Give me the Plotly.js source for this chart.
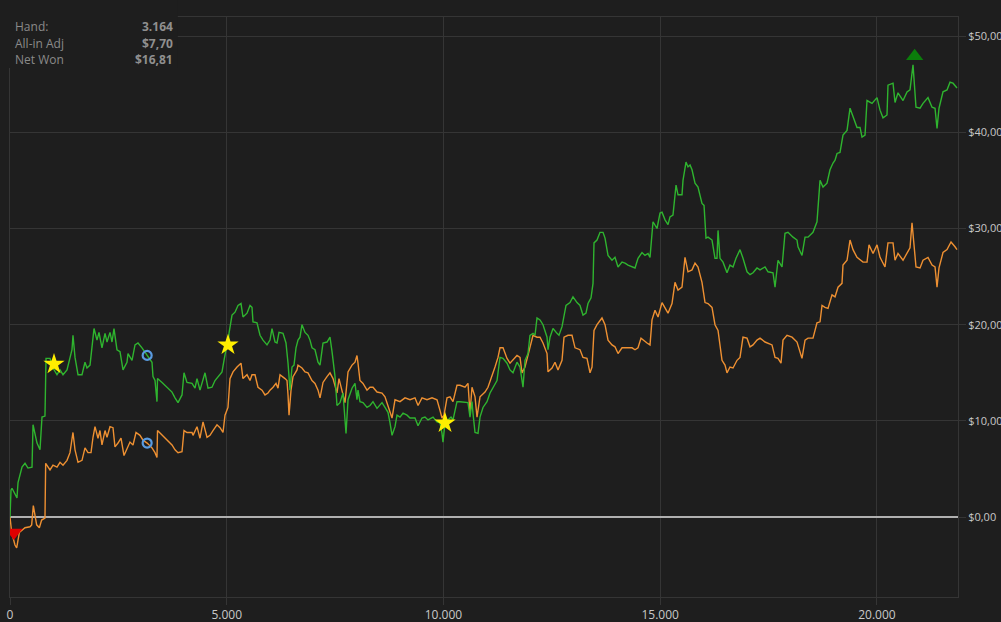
<!DOCTYPE html>
<html>
<head>
<meta charset="utf-8">
<script src="https://cdn.plot.ly/plotly-3.0.1.min.js"></script>
<style>
html,body{margin:0;padding:0;background:#1e1e1e;}
#chart{width:1001px;height:622px;}
</style>
</head>
<body>
<div id="chart"></div>
<script>
// Net Won (green)
const netHands = [0,23,46,161,185,277,346,415,508,531,623,692,738,807,831,923,992,1084,1154,1223,1315,1384,1430,1453,1500,1569,1661,1730,1776,1846,1892,1938,2007,2053,2122,2192,2238,2307,2353,2399,2468,2538,2607,2699,2722,2815,2884,2953,3045,3164,3276,3299,3345,3391,3403,3507,3622,3737,3807,3876,3968,4014,4083,4199,4268,4314,4383,4499,4568,4660,4729,4798,4891,4937,4983,5029,5052,5122,5191,5260,5329,5375,5468,5537,5583,5606,5698,5768,5837,5929,5998,6044,6114,6160,6206,6298,6367,6414,6460,6506,6552,6598,6644,6690,6736,6806,6875,6921,6967,7036,7106,7152,7221,7313,7382,7429,7498,7544,7613,7682,7705,7752,7798,7890,7959,8005,8028,8074,8144,8236,8305,8374,8467,8582,8651,8720,8767,8813,8882,8928,8997,9067,9159,9228,9343,9413,9505,9574,9643,9759,9851,9920,9966,9989,10036,10105,10174,10220,10312,10381,10566,10612,10658,10681,10728,10797,10843,10912,11004,11074,11143,11235,11304,11374,11466,11535,11604,11696,11766,11835,11881,11950,11996,12066,12112,12158,12227,12296,12389,12412,12458,12527,12619,12665,12735,12781,12827,12919,12988,13081,13150,13219,13288,13334,13404,13450,13473,13542,13611,13681,13727,13796,13888,13957,14027,14119,14188,14257,14350,14419,14488,14580,14649,14719,14765,14811,14834,14926,14996,15042,15111,15180,15226,15295,15365,15411,15503,15526,15595,15641,15688,15734,15803,15872,15964,16011,16057,16103,16195,16264,16310,16334,16380,16449,16541,16610,16680,16749,16841,16910,17003,17072,17141,17233,17303,17418,17487,17602,17649,17718,17810,17879,17948,18064,18156,18179,18271,18341,18410,18525,18617,18687,18756,18848,18917,18987,19033,19079,19148,19217,19310,19379,19448,19540,19610,19656,19725,19771,19886,20002,20071,20140,20232,20255,20371,20417,20486,20602,20694,20763,20832,20901,20994,21063,21178,21271,21340,21386,21432,21524,21617,21686,21755,21847];
const netWon = [0,2.8,3.0,2.0,3.6,5.2,5.6,5.1,5.2,9.6,7.7,7.0,10.4,10.5,16.5,16.5,15.5,14.8,15.3,14.8,15.3,16.5,17.4,18.9,16.6,14.8,14.8,16.1,15.5,15.8,17.4,19.6,18.4,19.2,17.6,19.1,18.2,19.2,18.2,19.6,17.4,17.2,15.3,16.1,17.0,16.3,17.9,18.1,17.6,16.81,16.1,14.6,14.2,12.0,14.4,14.0,13.5,13.0,12.4,11.9,12.7,15.0,14.0,13.9,13.4,14.4,13.2,15.0,13.4,13.5,14.2,14.6,15.1,16.3,17.4,17.9,19.1,21.0,21.3,22.0,22.2,20.8,21.2,22.0,21.8,20.3,20.2,18.9,18.4,17.9,18.4,19.6,18.2,18.1,19.2,19.1,18.1,16.0,13.2,15.6,15.8,17.6,18.4,18.7,20.0,19.2,18.9,18.4,17.6,17.4,16.1,15.8,18.1,18.2,18.7,17.2,14.6,11.6,11.9,12.9,11.4,8.7,12.2,13.4,13.9,12.2,13.2,12.0,11.9,11.4,11.6,12.0,11.3,11.9,11.4,10.9,9.8,8.5,9.4,10.6,10.4,10.8,10.6,10.3,10.3,9.5,10.3,10.4,10.1,10.4,9.9,9.8,8.7,7.8,9.8,10.1,10.4,10.1,12.0,12.0,11.9,10.4,12.0,10.8,8.8,8.7,10.4,11.4,12.0,12.9,13.5,14.2,16.6,16.5,16.0,15.3,15.0,16.1,15.6,13.5,16.3,17.0,18.9,19.1,18.9,20.7,20.5,20.0,18.7,17.4,18.7,19.6,19.1,18.9,19.8,20.8,22.0,22.3,22.9,22.3,22.0,21.0,21.2,22.2,22.8,24.3,28.5,28.8,29.6,29.6,29.0,27.2,26.7,27.0,26.0,26.5,26.4,26.2,26.0,25.9,26.9,27.5,27.2,27.4,27.0,29.1,30.7,30.0,31.6,31.7,30.9,30.4,31.2,31.4,34.5,33.5,33.5,35.0,36.9,36.4,36.6,36.1,34.7,34.3,32.6,32.4,29.0,29.1,28.8,26.9,26.9,29.8,26.9,26.5,25.4,26.2,26.0,26.9,27.8,26.9,25.5,25.2,25.4,25.9,25.7,26.0,25.5,25.4,23.9,26.7,26.0,29.5,29.6,29.1,28.8,28.1,27.2,29.1,29.1,29.6,30.7,35.0,34.3,34.7,36.1,36.8,37.1,37.8,37.9,39.7,40.2,42.5,41.6,40.5,40.5,39.5,39.7,43.3,43.0,43.6,42.3,41.5,41.8,44.9,45.1,43.1,44.1,43.3,44.2,44.4,47.0,42.6,42.5,43.0,43.6,42.6,42.5,40.4,42.5,44.2,44.4,45.2,45.1,44.6];

// All-in Adj (orange)
const adjHands = [0,39,115,154,215,269,346,461,500,538,577,615,677,730,807,823,923,992,1084,1154,1223,1315,1384,1453,1500,1569,1661,1730,1799,1869,1915,1961,2030,2076,2122,2192,2238,2307,2376,2422,2492,2561,2630,2699,2768,2838,2907,2999,3068,3164,3276,3345,3391,3403,3507,3622,3737,3807,3876,3968,4014,4083,4199,4222,4314,4383,4453,4545,4614,4683,4775,4845,4914,4960,5029,5075,5145,5237,5329,5375,5468,5537,5583,5652,5721,5814,5883,5952,5998,6068,6137,6183,6229,6344,6390,6414,6437,6483,6529,6621,6644,6736,6806,6875,6967,7036,7106,7152,7221,7313,7382,7452,7498,7544,7590,7659,7728,7798,7890,7959,8005,8028,8074,8144,8236,8305,8374,8467,8582,8651,8720,8813,8882,8997,9113,9228,9343,9413,9505,9620,9736,9851,9920,9966,10012,10082,10151,10220,10312,10381,10497,10566,10612,10658,10728,10774,10843,10958,11027,11120,11189,11258,11304,11374,11466,11535,11604,11696,11766,11812,11881,11950,11996,12066,12158,12227,12296,12389,12412,12504,12573,12642,12735,12781,12873,12965,13035,13150,13219,13311,13381,13427,13473,13542,13657,13727,13796,13888,13957,14027,14119,14234,14350,14419,14488,14557,14603,14696,14765,14811,14880,14950,15042,15111,15180,15272,15341,15411,15503,15572,15641,15734,15803,15872,15964,16034,16103,16195,16264,16334,16426,16495,16541,16610,16680,16772,16841,16910,17003,17072,17141,17233,17303,17418,17487,17579,17649,17718,17787,17833,17925,18041,18156,18202,18271,18341,18410,18525,18617,18687,18733,18802,18871,18964,19033,19102,19194,19217,19310,19379,19448,19540,19610,19679,19771,19817,19910,20002,20071,20186,20255,20371,20417,20486,20602,20694,20763,20809,20901,20994,21063,21178,21271,21340,21386,21432,21524,21617,21709,21801,21847];
const adjValue = [0,-1.6,-2.9,-3.2,-1.6,-1.4,-1.1,-1.0,-0.8,1.2,-0.1,-0.8,-1.1,-0.3,-0.1,5.6,4.9,5.4,5.2,5.7,5.4,5.9,6.7,8.8,7.0,5.7,5.9,7.2,6.7,6.7,8.3,9.4,8.2,9.0,7.5,9.0,8.3,9.4,9.3,7.3,7.7,8.2,6.4,7.2,7.8,7.5,8.8,8.5,8.0,7.70,7.2,6.7,6.2,9.0,8.5,8.0,7.5,7.0,6.7,6.8,9.0,8.8,8.8,8.5,9.4,8.2,9.9,8.3,8.5,9.0,9.6,9.3,8.8,10.6,11.4,14.4,15.1,15.6,16.0,14.4,14.8,14.2,14.8,14.8,13.5,13.2,12.7,12.9,13.2,13.5,13.9,13.4,14.8,14.4,14.2,12.7,10.6,13.2,14.6,15.3,15.8,15.5,15.1,15.0,14.2,13.9,13.2,12.4,14.0,14.6,15.0,14.4,13.5,12.9,14.4,13.2,11.9,15.1,15.8,16.1,16.8,16.0,14.2,13.9,13.2,13.5,13.5,13.0,12.9,12.5,11.6,10.3,12.2,12.0,12.4,12.2,12.4,11.6,12.4,12.2,12.4,12.2,11.1,10.3,10.6,12.4,12.5,12.0,13.7,13.7,13.5,13.9,10.8,13.5,12.5,10.4,12.5,13.0,13.5,14.6,15.6,16.6,17.6,17.6,16.5,16.0,16.3,16.8,16.6,15.0,15.6,16.8,17.9,18.9,18.7,18.7,18.1,17.0,15.1,15.5,16.1,15.3,16.3,18.7,18.9,18.9,17.6,17.4,16.6,16.5,15.0,15.6,19.4,20.0,20.7,20.0,18.4,17.9,17.7,17.0,17.6,17.6,17.6,17.4,17.6,18.6,18.4,18.1,17.9,20.5,21.5,20.8,22.3,21.8,21.2,22.2,24.4,23.6,23.9,27.0,25.5,25.7,26.4,26.0,24.4,22.3,22.2,21.8,20.0,19.4,16.3,15.8,15.0,15.6,15.5,16.3,16.6,18.7,18.6,17.7,17.9,18.4,18.6,18.2,18.1,17.9,16.6,16.5,16.0,18.4,18.9,18.7,18.2,17.4,16.5,18.4,18.6,18.6,20.2,20.3,22.0,21.8,21.7,23.1,22.9,23.9,24.3,26.2,26.7,28.8,27.8,27.0,26.7,26.5,26.5,28.3,27.4,28.3,27.0,26.0,28.5,28.5,26.7,27.4,26.7,27.5,28.0,30.6,26.0,25.9,26.7,27.0,26.2,26.0,23.9,25.9,27.5,27.8,28.6,28.1,27.8];

// Event markers
const starHands = [1015, 5029, 10036];
const starValues = [15.9, 17.9, 9.8];
const hoverHand = 3164;
const hoverAdj = 7.70;
const hoverNet = 16.81;
const maxHand = [20870];
const maxMark = [47.9];
const minHand = [90];
const minMark = [-1.6];

// axis ticks
const xTickVals = [0, 5000, 10000, 15000, 20000];
const yTickVals = [0, 10, 20, 30, 40, 50];

// info labels
const infoLabels = ['Hand:', 'All-in Adj', 'Net Won'];
function fmtNum(v){ return String(v).replace(/\B(?=(\d{3})+(?!\d))/g, '.'); }
function fmtMoney(v){ return '$' + v.toFixed(2).replace('.', ','); }
const infoValues = [fmtNum(hoverHand), fmtMoney(hoverAdj), fmtMoney(hoverNet)];

const GRID = '#353535';
const TXT = '#c8c8c8';

const traces = [
  {x: adjHands, y: adjValue, type: 'scatter', mode: 'lines', name: 'All-in Adj',
   line: {color: '#ee9032', width: 1.4}, hoverinfo: 'skip'},
  {x: netHands, y: netWon, type: 'scatter', mode: 'lines', name: 'Net Won',
   line: {color: '#2fb42f', width: 1.4}, hoverinfo: 'skip'},
  {x: starHands, y: starValues, type: 'scatter', mode: 'markers',
   marker: {symbol: 'star', size: 16, color: '#ffee00', line: {width: 0}}, hoverinfo: 'skip'},
  {x: [hoverHand, hoverHand], y: [hoverNet, hoverAdj], type: 'scatter', mode: 'markers',
   marker: {symbol: 'circle-open', size: 9, color: '#5a9be0', line: {width: 2.2, color: '#5a9be0'}}, hoverinfo: 'skip'},
  {x: maxHand, y: maxMark, type: 'scatter', mode: 'markers',
   marker: {symbol: 'triangle-up', size: 15, color: '#0b7d0b'}, hoverinfo: 'skip'},
  {x: minHand, y: minMark, type: 'scatter', mode: 'markers',
   marker: {symbol: 'triangle-down', size: 15, color: '#e00000'}, hoverinfo: 'skip'}
];

const annotations = [];
const ys = [0.983, 0.955, 0.927];
for (let i = 0; i < infoLabels.length; i++) {
  annotations.push({xref: 'paper', yref: 'paper', x: 0.003, y: ys[i], xanchor: 'left', yanchor: 'middle',
    text: infoLabels[i], showarrow: false, font: {family: 'Open Sans, sans-serif', size: 12, color: '#8a8a8a'}});
  annotations.push({xref: 'paper', yref: 'paper', x: 0.1745, y: ys[i], xanchor: 'right', yanchor: 'middle',
    text: '<b>' + infoValues[i] + '</b>', showarrow: false, font: {family: 'Open Sans, sans-serif', size: 12, color: '#8f8f8f'}});
}

const layout = {
  width: 1001, height: 622,
  paper_bgcolor: '#1e1e1e', plot_bgcolor: '#1e1e1e',
  margin: {l: 10, r: 43, t: 17, b: 25, pad: 0},
  showlegend: false,
  font: {family: 'Open Sans, sans-serif', size: 12, color: TXT},
  xaxis: {
    range: [0, 21870], tickmode: 'array', tickvals: xTickVals, ticktext: xTickVals.map(fmtNum),
    showgrid: true, gridcolor: GRID, gridwidth: 1, zeroline: false,
    showline: true, linecolor: GRID, linewidth: 1, mirror: true,
    ticks: 'outside', ticklen: 7, tickcolor: GRID,
    tickfont: {size: 12, color: TXT}
  },
  yaxis: {
    side: 'right', range: [-8.3, 51.98], tickmode: 'array', tickvals: yTickVals, ticktext: yTickVals.map(fmtMoney),
    showgrid: true, gridcolor: GRID, gridwidth: 1,
    zeroline: true, zerolinecolor: '#b0b0b0', zerolinewidth: 2,
    showline: true, linecolor: GRID, linewidth: 1, mirror: true,
    ticks: 'outside', ticklen: 7, tickcolor: GRID,
    tickfont: {size: 11, color: TXT}
  },
  shapes: [
    {type: 'rect', xref: 'paper', yref: 'paper', x0: -0.02, x1: 0.177, y0: 0.912, y1: 1.04,
     fillcolor: '#1e1e1e', line: {width: 0}, layer: 'above'}
  ],
  annotations: annotations
};

Plotly.newPlot('chart', traces, layout, {staticPlot: true, displayModeBar: false});
</script>
</body>
</html>
